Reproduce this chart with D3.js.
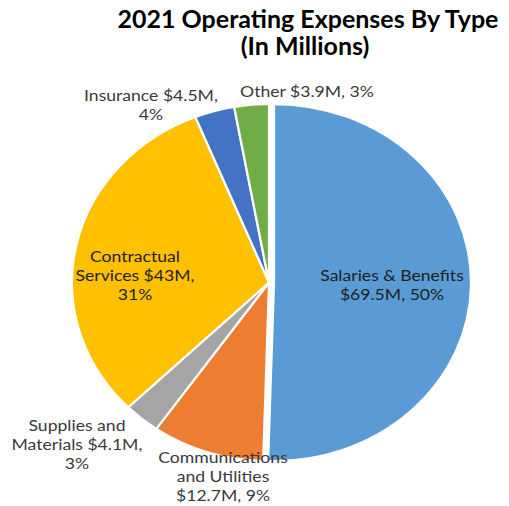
<!DOCTYPE html>
<html><head><meta charset="utf-8">
<script src="https://cdn.jsdelivr.net/npm/d3@7"></script>
<style>html,body{margin:0;padding:0;background:#fff;}svg{display:block;}</style>
</head><body>
<svg id="chart" width="509" height="506"></svg>
<script>
// ---- data ----
const categories = ["Salaries & Benefits", "Communications and Utilities", "Supplies and Materials", "Contractual Services", "Insurance", "Other"];
const values = [69.5, 12.7, 4.1, 43, 4.5, 3.9];
const valueLabels = ["$69.5M", "$12.7M", "$4.1M", "$43M", "$4.5M", "$3.9M"];
const pctLabels = ["50%", "9%", "3%", "31%", "4%", "3%"];
const titleLines = ["2021 Operating Expenses By Type", "(In Millions)"];

// ---- layout / style ----
const colors = ["#5B9BD5", "#ED7D31", "#A5A5A5", "#FFC000", "#4472C4", "#70AD47"];
const labelLines = [
  [categories[0], valueLabels[0] + ", " + pctLabels[0]],
  ["Communications", "and Utilities", valueLabels[1] + ", " + pctLabels[1]],
  ["Supplies and", "Materials " + valueLabels[2] + ",", pctLabels[2]],
  ["Contractual", "Services " + valueLabels[3] + ",", pctLabels[3]],
  [categories[4] + " " + valueLabels[4] + ",", pctLabels[4]],
  [categories[5] + " " + valueLabels[5] + ", " + pctLabels[5]]
];
const labelPos = [[392, 281], [223, 463], [77, 431], [135, 262], [151, 101], [307, 97]];
const labelInside = [true, false, false, true, false, false];

const svg = d3.select("#chart");
const cx = 269, cy = 282.5, ry = 178.5, sx = 197 / 178.5;

const pie = d3.pie().sort(null).value(d => d).startAngle(0).endAngle(2 * Math.PI);
const arcs = pie(values);
const arc = d3.arc().innerRadius(0).outerRadius(ry);

const g = svg.append("g").attr("transform", `translate(${cx},${cy}) scale(${sx},1)`);
g.selectAll("path").data(arcs).enter().append("path")
  .attr("d", arc)
  .attr("fill", (d, i) => colors[i])
  .attr("stroke", "#fff")
  .attr("stroke-width", 2.2)
  .attr("vector-effect", "non-scaling-stroke")
  .attr("transform", (d, i) => {
    if (i !== 0) return null;
    const a = (d.startAngle + d.endAngle) / 2;
    const off = 5 / sx;
    return `translate(${off * Math.sin(a)},${-off * Math.cos(a)})`;
  });

// title
const tt = svg.append("text")
  .attr("text-anchor", "middle")
  .attr("font-family", "Lato, 'Open Sans', sans-serif")
  .attr("font-weight", "bold")
  .attr("font-size", 25)
  .attr("fill", "#000");
tt.selectAll("tspan").data(titleLines).enter().append("tspan")
  .attr("x", (d, i) => i === 0 ? 308 : 305)
  .attr("y", (d, i) => 28 + i * 27)
  .text(d => d);

// labels
const fs = 16, lh = 19, tx = 1.1;
labelLines.forEach((lines, i) => {
  const [x, y] = labelPos[i];
  const t = svg.append("text")
    .attr("transform", `translate(${x},${y}) scale(${tx},1)`)
    .attr("text-anchor", "middle")
    .attr("font-family", "Lato, 'Open Sans', sans-serif")
    .attr("font-size", fs)
    .attr("fill", labelInside[i] ? "#1e1e1e" : "#3a3a3a");
  t.selectAll("tspan").data(lines).enter().append("tspan")
    .attr("x", 0)
    .attr("y", (d, j) => j * lh)
    .text(d => d);
});
</script>
</body></html>
